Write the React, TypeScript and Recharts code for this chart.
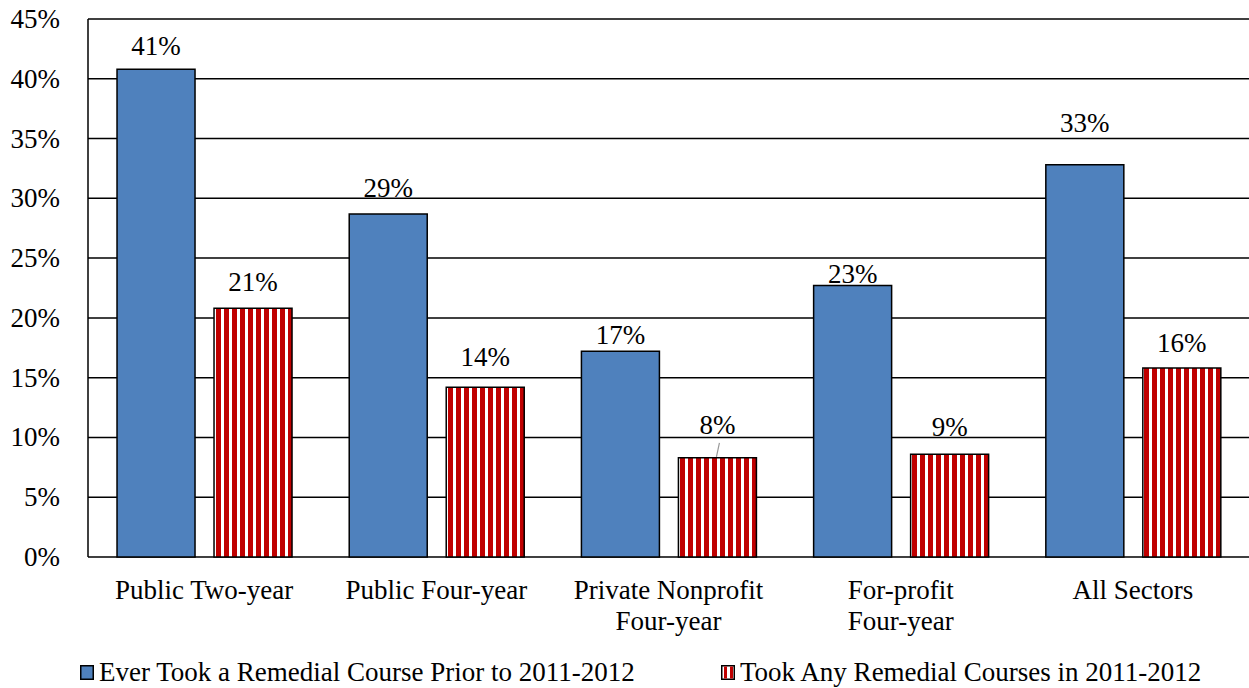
import { Bar, BarChart, CartesianGrid, LabelList, XAxis, YAxis } from "recharts";

// remedial coursework by sector (percent of students)
const sectors = [
  "Public Two-year",
  "Public Four-year",
  "Private Nonprofit\nFour-year",
  "For-profit\nFour-year",
  "All Sectors",
];
const everTook = [40.8, 28.7, 17.2, 22.7, 32.8];
const tookIn2011 = [20.8, 14.2, 8.3, 8.6, 15.8];
const yTicks = [0, 5, 10, 15, 20, 25, 30, 35, 40, 45];

const seriesNames = [
  "Ever Took a Remedial Course Prior to 2011-2012",
  "Took Any Remedial Courses in 2011-2012",
];

const rows = sectors.map((s, i) => ({ sector: s, ever: everTook[i], took: tookIn2011[i] }));

const FONT = "Liberation Serif";
const FS = 27;
const BLUE = "#4F81BD";
const RED = "#C00000";

// how far above the bar top each label's baseline sits (hand-placed labels)
const everLift = [14, 17, 7, 3, 33];
const tookLift = [17, 21, 24, 18, 16];
const tookLeader = [false, false, true, false, false];

function makeLabel(lifts: number[], leaders?: boolean[]) {
  return (props: any) => {
    const { x, y, width, value, index } = props;
    const lift = lifts[index] ?? 14;
    const cx = x + width / 2;
    return (
      <g>
        {leaders?.[index] && (
          <line x1={cx + 2} y1={y - lift + 9} x2={cx - 1} y2={y - 1} stroke="#999" strokeWidth={1.2} />
        )}
        <text
          x={cx}
          y={y - lift}
          textAnchor="middle"
          fontFamily={FONT}
          fontSize={FS}
          fill="#000"
          style={{ fontFamily: FONT }}
        >
          {Math.round(value)}%
        </text>
      </g>
    );
  };
}

function SectorTick(props: any) {
  const { x, y, payload } = props;
  const lines = String(payload.value).split("\n");
  return (
    <text x={x} y={y} textAnchor="middle" fontFamily={FONT} fontSize={FS} fill="#000" style={{ fontFamily: FONT }}>
      {lines.map((l, i) => (
        <tspan key={i} x={x} dy={i === 0 ? 34 : 31}>
          {l}
        </tspan>
      ))}
    </text>
  );
}

function ValueTick(props: any) {
  const { x, y, payload } = props;
  return (
    <text
      x={x}
      y={y}
      dy={9}
      textAnchor="end"
      fontFamily={FONT}
      fontSize={FS}
      fill="#000"
      style={{ fontFamily: FONT }}
    >
      {payload.value}%
    </text>
  );
}

function Swatch({ striped }: { striped: boolean }) {
  return (
    <svg width={14} height={15} style={{ display: "block" }}>
      <rect x={0.75} y={0.75} width={12.5} height={13.5} fill={striped ? "#fff" : BLUE} stroke="#000" strokeWidth={1.5} />
      {striped && (
        <>
          <rect x={3} y={1.5} width={3} height={12} fill={RED} />
          <rect x={9} y={1.5} width={3} height={12} fill={RED} />
        </>
      )}
    </svg>
  );
}

const legendItem: React.CSSProperties = {
  position: "absolute",
  top: 657,
  display: "flex",
  alignItems: "center",
  fontFamily: FONT,
  fontSize: FS,
  color: "#000",
  whiteSpace: "nowrap",
};

export default function App() {
  return (
    <div style={{ position: "absolute", left: 0, top: 0, width: 1249, height: 688, background: "#fff" }}>
      <BarChart
        width={1249}
        height={688}
        data={rows}
        margin={{ top: 19, right: 0, bottom: 61, left: 0 }}
        barCategoryGap="12.5%"
        barGap={19}
      >
        <defs>
          <pattern id="redStripes" patternUnits="userSpaceOnUse" width={8} height={8}>
            <rect x={0} y={0} width={8} height={8} fill="#fff" />
            <rect x={0} y={0} width={5} height={8} fill={RED} />
          </pattern>
        </defs>
        <CartesianGrid vertical={false} stroke="#000" strokeWidth={1.5} />
        <XAxis
          dataKey="sector"
          axisLine={false}
          tickLine={false}
          height={70}
          interval={0}
          tick={<SectorTick />}
        />
        <YAxis
          width={88}
          domain={[0, 45]}
          ticks={yTicks}
          axisLine={{ stroke: "#000", strokeWidth: 1.5 }}
          tickLine={false}
          tickSize={0}
          tickMargin={28}
          tick={<ValueTick />}
        />
        <Bar dataKey="ever" name={seriesNames[0]} fill={BLUE} stroke="#000" strokeWidth={1.5} isAnimationActive={false}>
          <LabelList dataKey="ever" content={makeLabel(everLift)} />
        </Bar>
        <Bar dataKey="took" name={seriesNames[1]} fill="url(#redStripes)" stroke="#000" strokeWidth={1.5} isAnimationActive={false}>
          <LabelList dataKey="took" content={makeLabel(tookLift, tookLeader)} />
        </Bar>
      </BarChart>

      <div style={{ ...legendItem, left: 80 }}>
        <Swatch striped={false} />
        <span style={{ marginLeft: 5 }}>{seriesNames[0]}</span>
      </div>
      <div style={{ ...legendItem, left: 721 }}>
        <Swatch striped={true} />
        <span style={{ marginLeft: 5 }}>{seriesNames[1]}</span>
      </div>
    </div>
  );
}
